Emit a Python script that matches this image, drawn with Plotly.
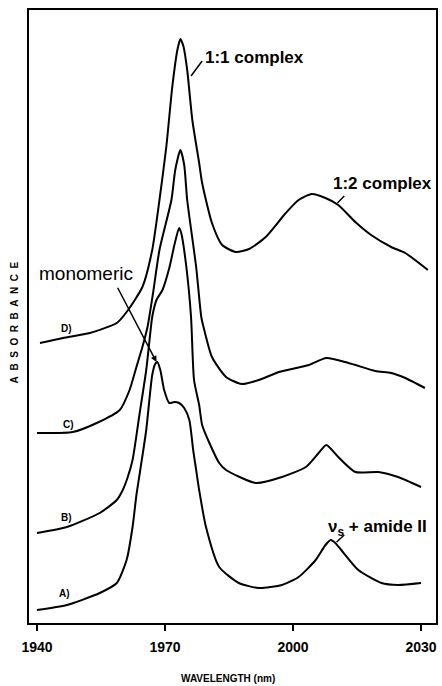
import plotly.graph_objects as go

# Wavelength (nm) and absorbance (arbitrary, offset) for each trace
wl_D = [1940.7, 1946.1, 1952.4, 1958.7, 1961.0, 1964.7, 1967.0, 1968.7, 1970.3, 1971.7, 1972.9, 1973.6,
        1974.3, 1975.2, 1976.4, 1978.0, 1978.7, 1981.0, 1983.4, 1986.6, 1989.7, 1993.6, 1998.3, 2001.3,
        2004.4, 2007.6, 2010.6, 2014.6, 2018.3, 2023.0, 2026.3, 2031.6]
ab_D = [2.80, 2.85, 2.90, 3.00, 3.11, 3.36, 3.73, 4.23, 4.76, 5.36, 5.73, 5.84,
        5.77, 5.53, 5.03, 4.60, 4.40, 4.00, 3.78, 3.71, 3.74, 3.86, 4.10, 4.23,
        4.29, 4.25, 4.18, 4.01, 3.88, 3.76, 3.70, 3.53]

wl_C = [1940.0, 1948.4, 1954.0, 1959.4, 1961.7, 1963.3, 1964.7, 1965.9, 1967.2, 1968.7, 1971.5, 1972.4,
        1973.6, 1974.5, 1975.2, 1977.3, 1978.5, 1979.2, 1981.0, 1984.3, 1988.0, 1992.0, 1996.7, 2003.7,
        2007.8, 2013.0, 2019.3, 2023.0, 2026.3, 2030.9]
ab_C = [1.90, 1.91, 2.00, 2.13, 2.33, 2.56, 2.76, 2.96, 3.30, 3.73, 4.23, 4.53,
        4.73, 4.58, 4.23, 3.56, 3.06, 2.93, 2.66, 2.46, 2.39, 2.43, 2.51, 2.58,
        2.65, 2.60, 2.52, 2.50, 2.45, 2.35]

wl_B = [1940.0, 1947.0, 1954.7, 1958.7, 1960.1, 1961.2, 1962.4, 1964.0, 1965.6, 1966.3, 1967.0, 1968.0,
        1969.4, 1971.0, 1972.2, 1973.3, 1973.8, 1975.0, 1976.1, 1976.8, 1978.0, 1978.7, 1980.3, 1982.7,
        1984.3, 1991.3, 1997.4, 2003.0, 2006.0, 2007.8, 2010.6, 2014.6, 2020.0, 2024.6, 2030.0]
ab_B = [0.90, 0.96, 1.10, 1.23, 1.33, 1.45, 1.63, 2.08, 2.53, 2.80, 3.06, 3.23,
        3.33, 3.55, 3.78, 3.95, 3.90, 3.56, 3.06, 2.43, 2.18, 1.98, 1.81, 1.60,
        1.53, 1.40, 1.46, 1.56, 1.70, 1.78, 1.66, 1.51, 1.51, 1.46, 1.36]

wl_A = [1940.0, 1947.0, 1954.7, 1958.7, 1961.0, 1962.4, 1963.3, 1964.2, 1965.6, 1967.0, 1967.7, 1968.2,
        1968.9, 1969.8, 1971.0, 1972.2, 1973.3, 1974.5, 1975.7, 1976.6, 1977.3, 1978.0, 1979.6, 1982.7,
        1987.3, 1992.0, 1997.4, 2001.3, 2005.3, 2007.6, 2008.8, 2009.9, 2011.3, 2015.3, 2020.7, 2024.6, 2030.0]
ab_A = [0.13, 0.18, 0.30, 0.40, 0.63, 0.96, 1.28, 1.53, 1.93, 2.48, 2.59, 2.61,
        2.53, 2.33, 2.20, 2.21, 2.20, 2.15, 2.03, 1.73, 1.53, 1.33, 0.96, 0.56,
        0.40, 0.35, 0.38, 0.46, 0.63, 0.78, 0.83, 0.80, 0.73, 0.53, 0.40, 0.38, 0.40]

x_ticks = [1940, 1970, 2000, 2030]
trace_labels = ["D)", "C)", "B)", "A)"]

fig = go.Figure()
for wl, ab in [(wl_D, ab_D), (wl_C, ab_C), (wl_B, ab_B), (wl_A, ab_A)]:
    fig.add_trace(go.Scatter(x=wl, y=ab, mode="lines",
                             line=dict(color="black", width=2, shape="spline", smoothing=0.6),
                             showlegend=False, hoverinfo="skip"))

lab_font = dict(family="Liberation Sans", size=10, color="black", weight="bold")
label_pos = [(1947.0, 2.95), (1947.5, 1.99), (1947.0, 1.06), (1946.5, 0.30)]
for t, (lx, ly) in zip(trace_labels, label_pos):
    fig.add_annotation(x=lx, y=ly, text=t, showarrow=False, font=lab_font,
                       xanchor="center", yanchor="middle")

big_font = dict(family="Liberation Sans", size=17, color="black", weight="bold")
# 1:1 complex
fig.add_annotation(x=1979.0, y=5.66, text="1:1 complex", showarrow=False, font=big_font,
                   xanchor="left", yanchor="middle")
fig.add_shape(type="line", x0=1976.1, y0=5.47, x1=1978.7, y1=5.62,
              line=dict(color="black", width=1.5))
# 1:2 complex
fig.add_annotation(x=2008.8, y=4.40, text="1:2 complex", showarrow=False, font=big_font,
                   xanchor="left", yanchor="middle")
fig.add_shape(type="line", x0=2010.4, y0=4.20, x1=2012.0, y1=4.27,
              line=dict(color="black", width=1.5))
# monomeric
fig.add_annotation(x=1939.9, y=3.50, text="monomeric", showarrow=False,
                   font=dict(family="Liberation Sans", size=19, color="black"),
                   xanchor="left", yanchor="middle")
fig.add_annotation(x=1968.0, y=2.61, ax=1958.2, ay=3.41, axref="x", ayref="y",
                   text=" ", showarrow=True, arrowhead=2, arrowsize=0.8, arrowwidth=1.5,
                   arrowcolor="black")
# nu_s + amide II
fig.add_annotation(x=2007.8, y=0.95, text="ν<sub>s</sub> + amide II", showarrow=False,
                   font=big_font, xanchor="left", yanchor="middle")
fig.add_shape(type="line", x0=2010.2, y0=0.81, x1=2012.0, y1=0.88,
              line=dict(color="black", width=1.5))

# axis titles
fig.add_annotation(x=0.49, y=-0.09, xref="paper", yref="paper", text="WAVELENGTH (nm)",
                   showarrow=False, font=dict(family="Liberation Sans", size=10, color="black", weight="bold"),
                   xanchor="center", yanchor="middle")
fig.add_annotation(x=-0.035, y=0.49, xref="paper", yref="paper",
                   text="\u00a0\u00a0".join("ABSORBANCE"), textangle=-90,
                   showarrow=False, font=dict(family="Liberation Sans", size=10, color="black", weight="bold"),
                   xanchor="center", yanchor="middle")

fig.update_xaxes(range=[1938.13, 2033.5], tickvals=x_ticks, ticks="outside", ticklen=6,
                 tickwidth=1.5, tickcolor="black", showline=True, linecolor="black", linewidth=2,
                 mirror=True, showgrid=False, zeroline=False, ticklabelstandoff=4,
                 tickfont=dict(family="Liberation Sans", size=14, color="black", weight="bold"))
fig.update_yaxes(range=[0, 6.13], showticklabels=False, ticks="", showline=True, linecolor="black",
                 linewidth=2, mirror=True, showgrid=False, zeroline=False)

fig.update_layout(width=442, height=686, margin=dict(l=29, r=4, t=10, b=63),
                  plot_bgcolor="white", paper_bgcolor="white")

fig.write_html("out.html")
